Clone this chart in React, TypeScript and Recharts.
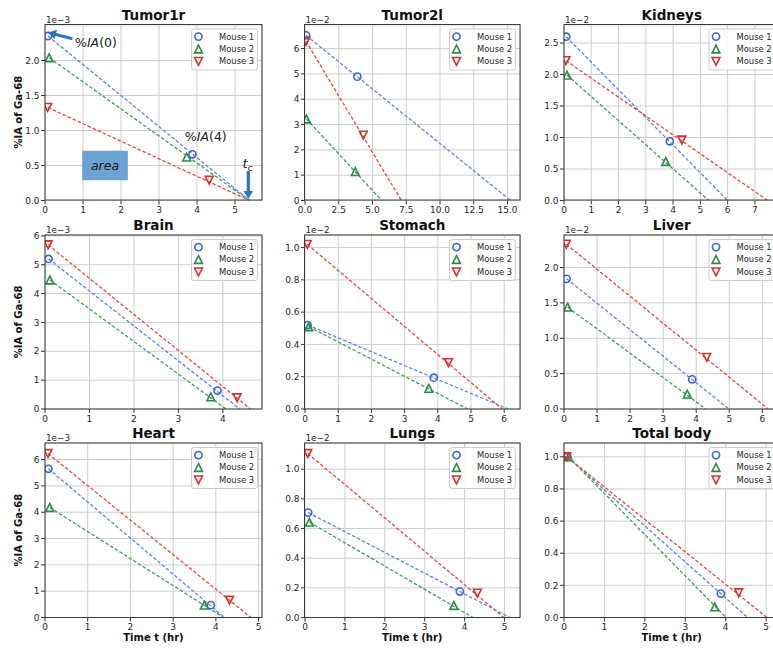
import React from 'react';
import {
  ScatterChart,
  Scatter,
  XAxis,
  YAxis,
  CartesianGrid,
  ReferenceArea,
  ReferenceLine,
  ReferenceDot,
} from 'recharts';

// ---------------- data ----------------
const organs = ['Tumor1r', 'Tumor2l', 'Kidneys', 'Brain', 'Stomach', 'Liver', 'Heart', 'Lungs', 'Total body'];
const mice = ['Mouse 1', 'Mouse 2', 'Mouse 3'];
const mouseTimes = [
  [0.08, 3.88],
  [0.11, 3.73],
  [0.07, 4.32],
];

const mouse1Values = [[2.35, 0.66], [6.52, 4.89], [2.6, 0.94], [5.2, 0.64], [0.52, 0.194], [1.84, 0.42], [5.65, 0.47], [0.708, 0.175], [1.0, 0.149]];
const mouse2Values = [[2.04, 0.62], [3.22, 1.14], [1.99, 0.62], [4.47, 0.42], [0.51, 0.128], [1.44, 0.21], [4.18, 0.47], [0.643, 0.081], [1.0, 0.066]];
const mouse3Values = [[1.33, 0.29], [6.29, 2.58], [2.22, 0.96], [5.69, 0.39], [1.02, 0.287], [2.33, 0.73], [6.23, 0.66], [1.106, 0.164], [1.0, 0.154]];

const mouse1Tc = [5.38, 15.23, 6.0, 4.38, 6.12, 4.99, 4.2, 5.13, 4.54];
const mouse2Tc = [5.38, 5.68, 5.31, 4.07, 4.9, 4.29, 4.18, 4.21, 4.01];
const mouse3Tc = [5.38, 7.14, 7.47, 4.62, 5.94, 6.18, 4.82, 4.98, 5.02];

const xMaxes = [5.71, 15.96, 7.9, 4.88, 6.49, 6.52, 5.08, 5.4, 5.33];
const yMaxes = [2.507, 6.93, 2.786, 6.03, 1.078, 2.46, 6.63, 1.177, 1.086];

const xTickLists = [
  [0, 1, 2, 3, 4, 5],
  [0, 2.5, 5, 7.5, 10, 12.5, 15],
  [0, 1, 2, 3, 4, 5, 6, 7],
  [0, 1, 2, 3, 4],
  [0, 1, 2, 3, 4, 5, 6],
  [0, 1, 2, 3, 4, 5, 6],
  [0, 1, 2, 3, 4, 5],
  [0, 1, 2, 3, 4, 5],
  [0, 1, 2, 3, 4, 5],
];
const yTickLists = [
  [0, 0.5, 1, 1.5, 2],
  [0, 1, 2, 3, 4, 5, 6],
  [0, 0.5, 1, 1.5, 2, 2.5],
  [0, 1, 2, 3, 4, 5, 6],
  [0, 0.2, 0.4, 0.6, 0.8, 1.0],
  [0, 0.5, 1, 1.5, 2],
  [0, 1, 2, 3, 4, 5, 6],
  [0, 0.2, 0.4, 0.6, 0.8, 1.0],
  [0, 0.2, 0.4, 0.6, 0.8, 1.0],
];
const xDecimals = [0, 1, 0, 0, 0, 0, 0, 0, 0];
const yDecimals = [1, 0, 1, 0, 1, 1, 0, 1, 1];
const scaleLabels = ['1e\u22123', '1e\u22122', '1e\u22122', '1e\u22123', '1e\u22122', '1e\u22122', '1e\u22123', '1e\u22122', ''];

// annotations of the first panel (data coordinates)
const arrowSegments = [
  [[0.72, 2.31], [0.08, 2.4]],
  [[5.35, 0.42], [5.35, 0.02]],
];
const areaBox = [0.98, 2.18, 0.29, 0.71];
const iaLabels = [
  [0.79, 2.26, '0'],
  [3.68, 0.91, '4'],
];
const tcLabel = [5.2, 0.53];

// ---------------- layout / style ----------------
const colLeft = [45, 304.5, 564];
const colRight = [262, 520, 779.5];
const rowTop = [24.5, 235, 443];
const rowBottom = [200, 409, 617.5];

const markerColors = ['#3b63e0', '#2a8c45', '#dd2c2c'];
const lineColors = ['#5d82ec', '#3f9c5c', '#e5493f'];
const FONT = 'DejaVu Sans';
const ARROW = '#2b78b8';

const allValues = [mouse1Values, mouse2Values, mouse3Values];
const allTc = [mouse1Tc, mouse2Tc, mouse3Tc];

function MarkerGlyph({ kind, cx, cy }: { kind: number; cx: number; cy: number }) {
  const color = markerColors[kind];
  if (kind === 0) return <circle cx={cx} cy={cy} r={3.6} fill="none" stroke={color} strokeWidth={1.6} />;
  const r = 3.9;
  const pts =
    kind === 1
      ? `${cx},${cy - r} ${cx - r},${cy + r} ${cx + r},${cy + r}`
      : `${cx},${cy + r} ${cx - r},${cy - r} ${cx + r},${cy - r}`;
  return <polygon points={pts} fill="none" stroke={color} strokeWidth={1.6} />;
}

function ArrowShape(p: any) {
  const { x1, y1, x2, y2 } = p;
  const dx = x2 - x1;
  const dy = y2 - y1;
  const len = Math.hypot(dx, dy) || 1;
  const ux = dx / len;
  const uy = dy / len;
  const hl = 8;
  const hw = 4.8;
  const bx = x2 - ux * hl;
  const by = y2 - uy * hl;
  return (
    <g>
      <line x1={x1} y1={y1} x2={bx + ux} y2={by + uy} stroke={ARROW} strokeWidth={3.2} />
      <polygon points={`${x2},${y2} ${bx - uy * hw},${by + ux * hw} ${bx + uy * hw},${by - ux * hw}`} fill={ARROW} />
    </g>
  );
}

function Panel({ i }: { i: number }) {
  const col = i % 3;
  const row = Math.floor(i / 3);
  const pl = colLeft[col];
  const pr = colRight[col];
  const pt = rowTop[row];
  const pb = rowBottom[row];
  const padL = 40;
  const padT = 10;
  const padR = 2;
  const padB = 25;
  const W = pr - pl + padL + padR;
  const H = pb - pt + padT + padB;
  const xMax = xMaxes[i];
  const yMax = yMaxes[i];

  return (
    <div style={{ position: 'absolute', left: pl - padL, top: pt - padT, width: W, height: H }}>
      <ScatterChart width={W} height={H} margin={{ top: padT, right: padR, bottom: 0, left: 0 }}>
        <CartesianGrid stroke="#cdcdcd" strokeWidth={1} />
        <XAxis
          type="number"
          dataKey="t"
          domain={[0, xMax]}
          ticks={xTickLists[i]}
          interval={0}
          allowDataOverflow
          height={padB}
          tickSize={4}
          tickMargin={2.5}
          axisLine={false}
          tickLine={{ stroke: '#333' }}
          tick={{ fontSize: 9, fill: '#262626', fontFamily: FONT }}
          tickFormatter={(v: number) => v.toFixed(xDecimals[i])}
        />
        <YAxis
          type="number"
          dataKey="v"
          domain={[0, yMax]}
          ticks={yTickLists[i]}
          interval={0}
          allowDataOverflow
          width={padL}
          tickSize={4}
          tickMargin={1.5}
          axisLine={false}
          tickLine={{ stroke: '#333' }}
          tick={{ fontSize: 9, fill: '#262626', fontFamily: FONT }}
          tickFormatter={(v: number) => v.toFixed(yDecimals[i])}
        />
        {i === 0 && (
          <ReferenceArea
            x1={areaBox[0]}
            x2={areaBox[1]}
            y1={areaBox[2]}
            y2={areaBox[3]}
            fill="#6aa3d2"
            fillOpacity={1}
            stroke="none"
          />
        )}
        {mice.map((m, k) => (
          <Scatter
            key={'line' + k}
            name={m + ' fit'}
            data={[
              { t: mouseTimes[k][0], v: allValues[k][i][0] },
              { t: allTc[k][i], v: 0 },
            ]}
            fill={lineColors[k]}
            line={{ stroke: lineColors[k], strokeWidth: 1.3, strokeDasharray: '3.5 2' }}
            lineType="joint"
            shape={() => <g />}
            isAnimationActive={false}
          />
        ))}
        {mice.map((m, k) => (
          <Scatter
            key={'pts' + k}
            name={m}
            data={[
              { t: mouseTimes[k][0], v: allValues[k][i][0] },
              { t: mouseTimes[k][1], v: allValues[k][i][1] },
            ]}
            fill={markerColors[k]}
            shape={(p: any) => <MarkerGlyph kind={k} cx={p.cx} cy={p.cy} />}
            isAnimationActive={false}
          />
        ))}
        {i === 0 &&
          arrowSegments.map((s, j) => (
            <ReferenceLine
              key={'arr' + j}
              segment={[
                { x: s[0][0], y: s[0][1] },
                { x: s[1][0], y: s[1][1] },
              ]}
              ifOverflow="visible"
              shape={(p: any) => <ArrowShape {...p} />}
            />
          ))}
        {i === 0 &&
          iaLabels.map((l, j) => (
            <ReferenceDot
              key={'ia' + j}
              x={l[0] as number}
              y={l[1] as number}
              r={0}
              ifOverflow="visible"
              shape={(p: any) => (
                <text x={p.cx} y={p.cy} dy="0.35em" fontSize={12.5} fontFamily={FONT} fill="#1a1a1a">
                  %<tspan fontStyle="italic">IA</tspan>({l[2]})
                </text>
              )}
            />
          ))}
        {i === 0 && (
          <ReferenceDot
            x={(areaBox[0] + areaBox[1]) / 2}
            y={(areaBox[2] + areaBox[3]) / 2}
            r={0}
            ifOverflow="visible"
            shape={(p: any) => (
              <text x={p.cx} y={p.cy} dy="0.35em" textAnchor="middle" fontSize={12.5} fontStyle="italic" fontFamily={FONT} fill="#1a1a1a">
                area
              </text>
            )}
          />
        )}
        {i === 0 && (
          <ReferenceDot
            x={tcLabel[0]}
            y={tcLabel[1]}
            r={0}
            ifOverflow="visible"
            shape={(p: any) => (
              <text x={p.cx} y={p.cy} dy="0.35em" fontSize={13} fontStyle="italic" fontFamily={FONT} fill="#1a1a1a">
                t<tspan fontSize={9} dy="3">c</tspan>
              </text>
            )}
          />
        )}
      </ScatterChart>
    </div>
  );
}

function Overlay() {
  const items: any[] = [];
  organs.forEach((name, i) => {
    const col = i % 3;
    const row = Math.floor(i / 3);
    const pl = colLeft[col];
    const pr = colRight[col];
    const pt = rowTop[row];
    const pb = rowBottom[row];
    items.push(
      <rect key={'fr' + i} x={pl} y={pt} width={pr - pl} height={pb - pt} fill="none" stroke="#3a3a3a" strokeWidth={1} />
    );
    items.push(
      <text key={'ti' + i} x={(pl + pr) / 2} y={pt - 4.8} textAnchor="middle" fontSize={13.5} fontWeight="bold" fill="#111">
        {name}
      </text>
    );
    if (scaleLabels[i])
      items.push(
        <text key={'sc' + i} x={pl + 1} y={pt - 2} fontSize={8.8} fill="#262626">
          {scaleLabels[i]}
        </text>
      );
    if (col === 0)
      items.push(
        <text
          key={'yl' + i}
          x={18.5}
          y={(pt + pb) / 2}
          transform={`rotate(-90 18.5 ${(pt + pb) / 2})`}
          dy="0.35em"
          textAnchor="middle"
          fontSize={10}
          fontWeight="bold"
          fill="#111"
        >
          %IA of Ga-68
        </text>
      );
    if (row === 2)
      items.push(
        <text key={'xl' + i} x={(pl + pr) / 2} y={641} textAnchor="middle" fontSize={10} fontWeight="bold" fill="#111">
          Time t (hr)
        </text>
      );
    // legend
    const bw = 66;
    const bh = 41;
    const bx = pr - 4.5 - bw;
    const by = pt + 4.5;
    items.push(
      <g key={'lg' + i}>
        <rect x={bx} y={by} width={bw} height={bh} rx={2.5} fill="#fff" fillOpacity={0.85} stroke="#cccccc" strokeWidth={1} />
        {mice.map((m, k) => (
          <g key={k}>
            <MarkerGlyph kind={k} cx={bx + 7} cy={by + 7.6 + 12.4 * k} />
            <text x={bx + 27.5} y={by + 7.6 + 12.4 * k} dy="0.35em" fontSize={8.4} fill="#262626">
              {m}
            </text>
          </g>
        ))}
      </g>
    );
  });
  return (
    <svg
      width={773}
      height={650}
      style={{ position: 'absolute', left: 0, top: 0, pointerEvents: 'none' }}
      fontFamily={FONT}
    >
      {items}
    </svg>
  );
}

export default function App() {
  return (
    <div
      style={{
        position: 'absolute',
        left: 0,
        top: 0,
        width: 773,
        height: 650,
        overflow: 'hidden',
        background: '#fff',
        fontFamily: FONT,
      }}
    >
      {organs.map((_, i) => (
        <Panel key={i} i={i} />
      ))}
      <Overlay />
    </div>
  );
}
